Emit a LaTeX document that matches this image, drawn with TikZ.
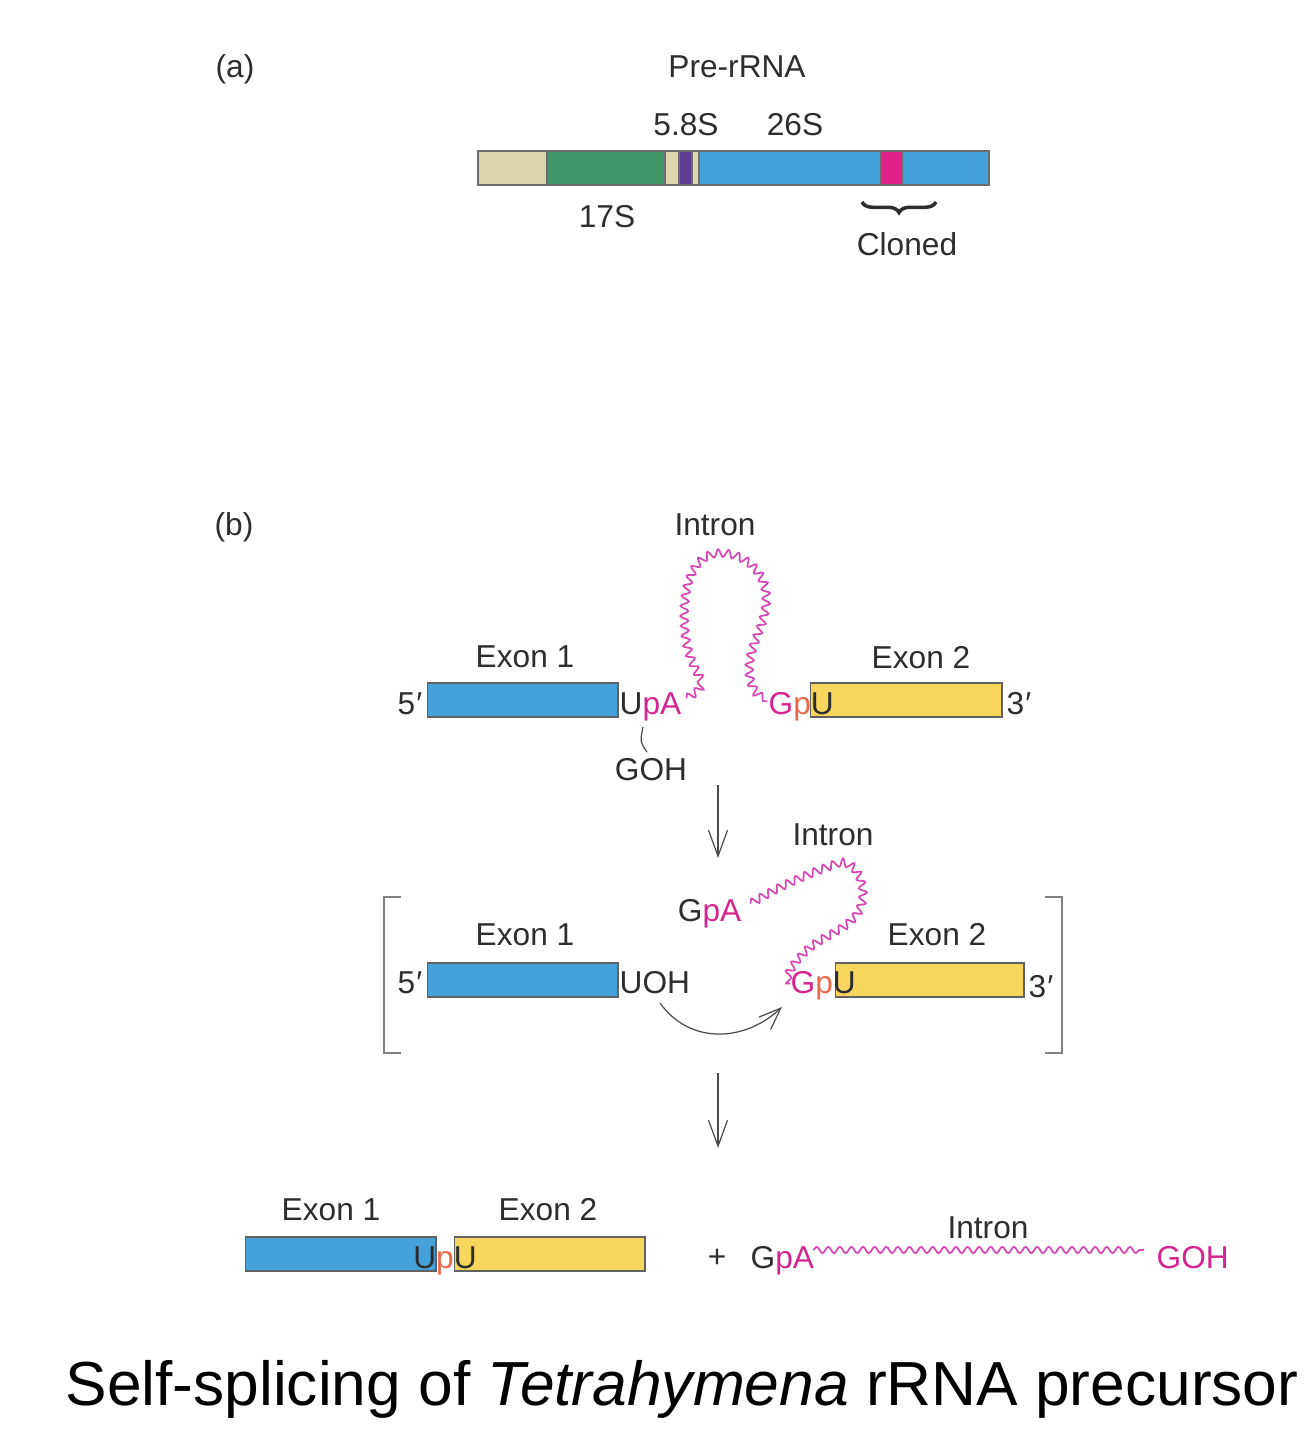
\documentclass[tikz,border=0pt]{standalone}
\usepackage{fontspec}
\setmainfont{Liberation Sans}
\usetikzlibrary{arrows.meta,positioning,calc,decorations.pathmorphing,decorations.pathreplacing}

\definecolor{beige}{RGB}{222,214,174}
\definecolor{rgreen}{RGB}{64,152,104}
\definecolor{rpurple}{RGB}{92,62,150}
\definecolor{rblue}{RGB}{70,160,218}
\definecolor{rmagenta}{RGB}{222,34,138}
\definecolor{ryellow}{RGB}{246,214,92}
\definecolor{intronpink}{RGB}{214,72,182}
\definecolor{rtext}{RGB}{210,38,142}
\definecolor{rorange}{RGB}{234,106,76}
\definecolor{ink}{RGB}{45,45,45}

\newcommand{\pr}{\kern0.3pt′}

\begin{document}
\begin{tikzpicture}[
  x=0.01cm, y=-0.01cm,
  lab/.style={font=\fontsize{9}{11}\selectfont, text=ink, inner sep=0pt},
  seg/.style={draw=ink!70, line width=0.35pt},
  exon/.style={draw=ink!75, line width=0.4pt, inner sep=0pt, minimum width=1.9cm, minimum height=0.34cm, anchor=west},
  intron/.style={draw=intronpink, line width=0.5pt, decorate, decoration={snake, amplitude=1.1pt, segment length=2.8pt}},
  thin/.style={draw=ink!85, line width=0.35pt},
  steparrow/.style={thin, -{Straight Barb[length=2.6mm, width=1.9mm]}},
  bracket/.style={draw=ink!60, line width=0.5pt}
]
\useasboundingbox (0,0) rectangle (1310,1437);

% (a) pre-rRNA map
\node[lab, anchor=base] (tagA) at (235,78) {(a)};
\node[lab, anchor=base] (prerna) at (737,78) {Pre-rRNA};

\filldraw[seg, fill=beige] (478,151) rectangle (547,185);
\filldraw[seg, fill=rgreen] (547,151) rectangle (665,185);
\filldraw[seg, fill=beige] (665,151) rectangle (679,185);
\filldraw[seg, fill=rpurple] (679,151) rectangle (692,185);
\filldraw[seg, fill=beige] (692,151) rectangle (699,185);
\filldraw[seg, fill=rblue] (699,151) rectangle (881,185);
\filldraw[seg, fill=rmagenta] (881,151) rectangle (902,185);
\filldraw[seg, fill=rblue] (902,151) rectangle (989,185);

\node[lab, anchor=base] (s58) at (686,136) {5.8S};
\node[lab, anchor=base] (s26) at (795,136) {26S};
\node[lab, anchor=base] (s17) at (607,228) {17S};
\coordinate (brL) at (862,202);
\coordinate (brR) at (936,202);
\draw[thin, draw=ink, line width=1pt, decorate, decoration={brace, amplitude=3pt}] (brR) -- (brL);
\node[lab, anchor=base] (cloned) at (907,256) {Cloned};

% (b) splicing, step 1
\node[lab, anchor=base] (tagB) at (234,535) {(b)};
\node[lab, anchor=base] (intr1) at (715,536) {Intron};

\node[exon, fill=rblue] (ex1a) at (427,700) {};
\node[exon, fill=ryellow, minimum width=1.91cm] (ex2a) at (810,700) {};
\node[lab, anchor=base] (lex1a) at (525,667) {Exon 1};
\node[lab, anchor=base] (lex2a) at (921,668) {Exon 2};
\node[lab, anchor=base east] (p5a) at (423,714) {5\pr};
\node[lab, anchor=base west] (p3a) at (1006,714) {3\pr};
\node[lab, anchor=base west] (upa) at (619,714) {U\textcolor{rtext}{pA}};
\node[lab, anchor=base west] (gpu1) at (768,714) {\textcolor{rtext}{G}\textcolor{rorange}{p}U};
\node[lab, anchor=base] (goh1) at (651,780) {GOH};
\draw[thin] (647,752) .. controls (640,742) .. (643,727);

% intron loops, drawn in cm
\begin{scope}[x=1cm, y=1cm]
\draw[intron] (6.86,-6.98) to[out=30,in=-60] (6.98,-6.80) to[out=120,in=-90] (6.82,-6.15)
  to[out=90,in=180] (7.18,-5.55) to[out=0,in=90] (7.64,-6.00) to[out=-90,in=90] (7.47,-6.72)
  to[out=-90,in=180] (7.67,-7.01);
\draw[intron] (7.50,-9.03) to[out=30,in=200] (8.35,-8.64) to[out=20,in=80] (8.60,-9.00)
  to[out=-100,in=40] (8.05,-9.50) to[out=220,in=180] (7.90,-9.83);
\end{scope}

% step 2
\coordinate (st1a) at (718,785);
\coordinate (st1b) at (718,858);
\draw[steparrow] (st1a) -- (st1b);

\node[lab, anchor=base] (intr2) at (833,845) {Intron};
\draw[bracket] (401,897) -- (384,897) -- (384,1053) -- (401,1053);
\draw[bracket] (1045,897) -- (1062,897) -- (1062,1053) -- (1045,1053);

\node[exon, fill=rblue] (ex1b) at (427,980) {};
\node[exon, fill=ryellow, minimum width=1.88cm] (ex2b) at (835,980) {};
\node[lab, anchor=base] (lex1b) at (525,945) {Exon 1};
\node[lab, anchor=base] (lex2b) at (937,945) {Exon 2};
\node[lab, anchor=base east] (p5b) at (423,993) {5\pr};
\node[lab, anchor=base west] (p3b) at (1028,997) {3\pr};
\node[lab, anchor=base west] (uoh) at (619,993) {UOH};
\node[lab, anchor=base west] (gpu2) at (790,993) {\textcolor{rtext}{G}\textcolor{rorange}{p}U};
\node[lab, anchor=base east] (gpa2) at (742,921) {G\textcolor{rtext}{pA}};

\coordinate (atk) at (782,1007);
\draw[thin, -{Straight Barb[length=2.2mm, width=1.7mm]}] (660,1003) .. controls (690,1045) and (745,1042) .. (atk);

% step 3
\coordinate (st2a) at (718,1073);
\coordinate (st2b) at (718,1148);
\draw[steparrow] (st2a) -- (st2b);

\node[exon, fill=rblue] (ex1c) at (245,1254) {};
\node[exon, fill=ryellow] (ex2c) at (454,1254) {};
\node[lab, anchor=base] (lex1c) at (331,1220) {Exon 1};
\node[lab, anchor=base] (lex2c) at (548,1220) {Exon 2};
\node[lab, anchor=base] (upu) at (445,1268) {U\textcolor{rorange}{p}U};
\node[lab, anchor=center] (plus) at (717,1258) {+};
\node[lab, anchor=base west] (gpa3) at (750,1268) {G\textcolor{rtext}{pA}};
\node[lab, anchor=base] (intr3) at (988,1238) {Intron};
\node[lab, anchor=base west, text=rtext] (goh3) at (1156,1268) {GOH};
\coordinate (w3a) at (813,1250);
\coordinate (w3b) at (1144,1250);
\draw[intron, decoration={snake, amplitude=0.9pt, segment length=3.3pt}] (w3a) -- (w3b);

% title
\node[font=\fontsize{17.7}{21}\selectfont, anchor=base, inner sep=0pt] (title) at (682,1405) {Self-splicing of \textit{Tetrahymena} rRNA precursor};
\end{tikzpicture}
\end{document}
